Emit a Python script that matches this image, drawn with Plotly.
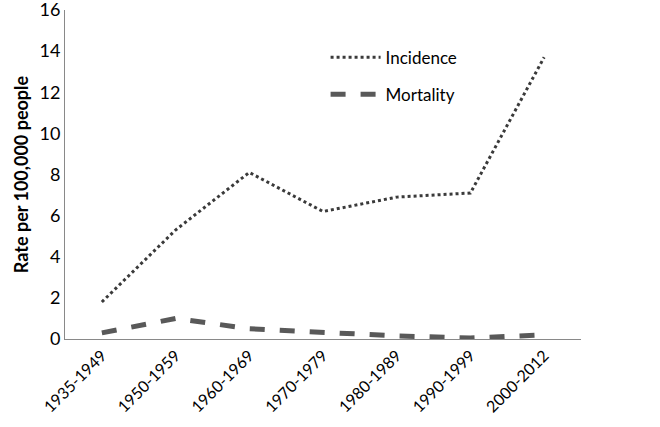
import plotly.graph_objects as go

categories = ["1935-1949", "1950-1959", "1960-1969", "1970-1979", "1980-1989", "1990-1999", "2000-2012"]
incidence = [1.8, 5.3, 8.1, 6.2, 6.9, 7.1, 13.7]
mortality = [0.3, 1.0, 0.5, 0.3, 0.15, 0.05, 0.2]
y_ticks = [0, 2, 4, 6, 8, 10, 12, 14, 16]

font_family = "Lato, 'Open Sans', sans-serif"

fig = go.Figure()
fig.add_trace(go.Scatter(x=categories, y=incidence, name="Incidence", mode="lines", legendgroup="a",
                         line=dict(color="#3a3a3a", width=3, dash="dot")))
fig.add_trace(go.Scatter(x=categories, y=mortality, name="Mortality", mode="lines", legendgroup="b",
                         line=dict(color="#595959", width=5, dash="dash")))

fig.update_layout(
    width=660, height=427,
    margin=dict(l=65, r=79, t=10, b=88),
    paper_bgcolor="white", plot_bgcolor="white",
    font=dict(family=font_family, color="#000000"),
    showlegend=True,
    legend=dict(x=0.505, y=0.91, xanchor="left", yanchor="top",
                font=dict(size=17, family=font_family), bgcolor="rgba(0,0,0,0)",
                tracegroupgap=12, itemwidth=50),
    xaxis=dict(type="category", showgrid=False, showline=True, linecolor="#898989", linewidth=1,
               tickangle=-45, tickfont=dict(size=16), ticks="", zeroline=False, automargin=False,
               range=[-0.5, len(categories) - 0.5]),
    yaxis=dict(range=[0, 16], tickvals=y_ticks, showgrid=False, showline=True, linecolor="#898989",
               linewidth=1, tickfont=dict(size=18), ticks="", zeroline=False, automargin=False,
               ticklabeloverflow="allow",
               title=dict(text="<b>Rate per 100,000 people</b>", font=dict(size=18), standoff=6)),
)

fig.write_html("out.html", config={"displayModeBar": False},
               post_script="document.body.style.margin='0';")
